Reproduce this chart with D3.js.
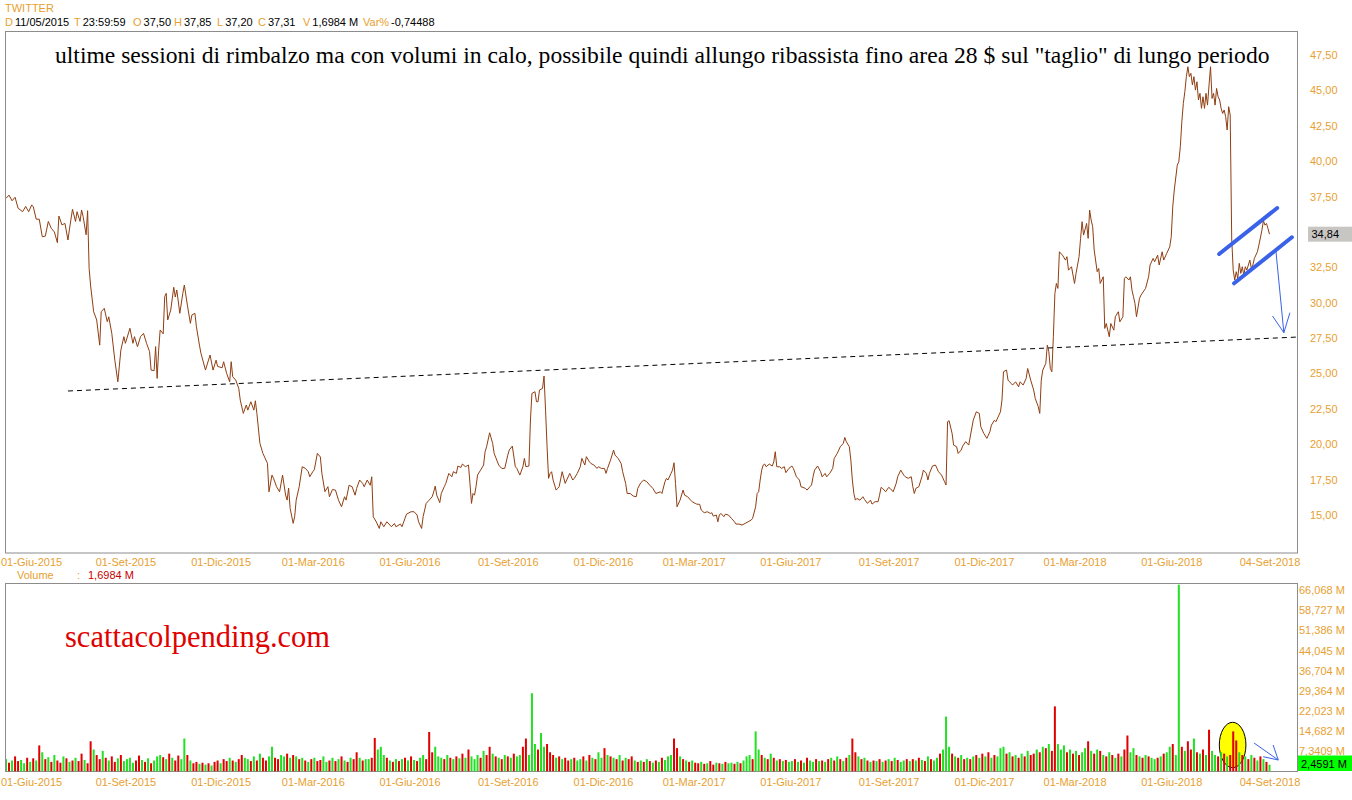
<!DOCTYPE html>
<html>
<head>
<meta charset="utf-8">
<script src="https://cdn.jsdelivr.net/npm/d3@7"></script>
<style>
body { margin:0; background:#fff; }
svg { display:block; font-family: Arial, "Liberation Sans", sans-serif; }
</style>
</head>
<body>
<svg id="chart" width="1352" height="800"></svg>
<script>
// trading-day index (0 = 11/05/2015) and close
var priceDays = [0,2,4,6,8,11,13,15,17,18,20,22,24,26,28,30,32,34,35,37,39,41,42,44,46,47,49,50,51,53,54,55,56,58,60,62,63,65,67,68,70,72,74,76,78,79,82,84,85,87,89,91,93,95,96,98,99,100,101,102,104,105,106,107,109,111,112,113,115,117,118,120,122,123,125,126,128,129,132,133,135,137,139,140,143,144,146,148,149,150,152,154,155,157,159,160,162,164,165,166,168,170,173,174,176,177,179,181,183,185,186,187,188,190,191,192,194,196,198,200,201,203,204,206,208,209,211,213,214,
216,218,220,222,224,225,227,229,231,232,234,236,237,239,241,242,243,245,247,248,250,252,254,255,257,258,261,262,264,265,268,270,272,273,275,276,278,280,282,283,284,285,287,288,290,291,293,295,296,298,299,301,302,304,306,307,308,309,310,311,312,314,316,317,318,320,322,323,326,328,330,332,333,335,337,338,340,342,343,344,346,347,348,350,351,352,353,355,356,357,358,359,360,361,362,364,365,366,368,370,371,373,375,376,378,380,381,383,384,386,387,389,391,392,394,396,397,398,400,402,403,405,407,408,410,411,413,415,417,418,420,422,424,426,
428,430,433,434,436,437,438,440,441,442,443,444,446,448,449,451,453,454,456,457,459,460,462,464,466,467,468,470,471,472,473,475,476,478,480,482,483,485,487,489,491,493,494,496,497,498,499,500,501,502,503,505,507,508,509,510,512,513,515,516,518,520,521,523,525,526,529,530,532,533,534,535,537,539,540,542,543,545,547,548,550,552,554,555,556,558,559,560,561,562,563,565,567,568,570,572,573,575,577,578,579,580,582,584,585,587,589,590,592,594,595,597,599,600,601,602,604,606,607,609,610,611,613,615,616,617,619,621,622,623,624,626,627,629,630,632,633,635,637,
640,642,644,645,647,649,651,652,654,655,657,658,659,660,662,663,665,666,668,670,671,673,675,676,678,680,681,683,684,685,686,688,689,690,691,692,693,694,695,696,697,699,701,702,703,705,707,708,710,711,712,713,715,716,717,718,719,720,722,723,724,726,727,728,730,731,733,734,736,737,739,740,741,743,744,745,746,747,748,750,751,754,756,757,759,760,762,763,765,766,768,770,771,772,773,775,776,777,778,779,780,781,782,783,784,785,786,787,788,789,790,791,792,793,794,795,796,797,798,799,800,801,802,803,804,805,806,807,808,809,810,811,812,813,814,815,816,817,818,819,820,821,823,824,825,826,828,829,831,832,833,834,835,836,837];
var priceClose = [37.37,37.6,37.2,37.45,36.67,36.43,36.8,36.43,36.9,36.8,35.9,35.9,34.66,34.7,35.74,35.25,35.0,34.24,36.12,35.5,35.6,34.43,35.2,36.6,35.74,36.43,35.74,36.55,36.1,34.8,36.5,32.43,31.18,29.36,28.78,27.0,29.36,29.6,28.66,29.0,27.83,25.94,24.41,26.65,27.6,27.13,28.19,27.13,27.6,26.89,27.6,27.83,27.13,26.54,25.24,25.2,26.9,24.65,26.65,28.07,27.8,30.42,30.66,28.78,29.48,31.09,30.4,30.9,29.25,30.66,31.25,29.83,28.54,29.13,29.25,28.3,27.0,26.42,25.24,25.6,26.3,25.24,25.94,25.5,25.4,25.83,25.0,24.41,25.83,24.77,24.53,23.95,23.12,22.18,22.77,22.41,23.0,22.41,23.07,22.18,20.06,19.35,18.65,16.64,17.82,17.6,17.0,16.64,17.82,16.41,16.05,16.9,15.47,14.41,14.88,16.05,17.0,18.41,18.3,18.06,17.7,18.06,18.2,19.35,19.1,17.95,16.65,17.0,16.29,
16.8,16.76,16.05,15.58,16.29,16.05,17.1,17.0,16.4,16.88,17.47,17.23,17.0,17.47,17.1,17.7,14.88,14.52,14.05,14.52,14.17,14.52,14.29,14.17,14.4,14.17,14.36,14.17,14.76,15.06,15.23,15.23,15.0,14.52,14.05,14.88,15.82,16.05,16.29,16.64,17.04,16.4,15.87,16.52,17.0,17.23,17.94,17.7,18.06,17.94,18.46,18.36,18.6,18.41,18.53,17.23,15.82,16.52,16.4,17.0,17.82,18.17,18.53,19.47,19.82,20.81,20.06,19.35,18.53,18.29,18.29,19.23,19.59,19.87,18.41,18.29,17.82,18.41,19.0,18.41,18.46,21.71,23.59,23.71,23.0,23.0,23.83,23.94,24.82,22.41,19.82,17.59,17.94,18.06,17.47,16.76,16.88,17.0,18.06,17.23,17.47,17.94,17.47,17.59,17.94,18.41,19.0,18.53,19.12,18.76,18.64,18.53,18.29,18.41,18.29,18.29,17.94,18.29,18.88,19.59,19.23,19.0,18.64,18.06,17.23,16.52,16.52,16.34,16.29,16.88,17.28,17.47,17.35,17.1,
16.88,16.52,16.64,16.52,17.35,17.59,17.47,17.94,18.17,18.69,17.23,15.58,16.05,16.76,16.4,16.29,16.05,15.94,15.82,15.77,15.75,15.35,15.16,15.23,15.11,15.16,14.92,15.0,14.52,15.0,15.11,14.88,15.06,15.0,14.76,14.52,14.36,14.36,14.29,14.4,14.52,14.64,14.76,15.58,16.52,16.64,17.47,18.17,18.53,18.6,18.41,18.6,18.46,18.76,19.47,18.41,18.41,18.29,18.41,17.99,18.29,18.46,18.29,17.7,17.47,17.0,16.88,16.76,17.0,17.12,17.7,18.17,18.46,18.06,17.7,17.94,17.7,17.94,18.29,19.0,19.35,19.82,20.06,20.48,20.18,19.82,18.88,17.47,16.52,16.05,16.17,16.05,16.29,16.1,15.82,16.05,15.77,15.94,15.94,16.4,16.95,16.88,16.64,16.95,16.88,16.64,17.23,17.7,18.17,17.82,17.7,17.59,17.7,17.0,16.52,16.88,17.0,17.7,18.17,17.94,17.47,17.94,18.46,18.53,18.29,18.06,17.82,17.35,17.12,21.59,21.66,20.76,19.94,19.82,19.35,19.59,19.87,20.18,19.94,
21.7,22.29,22.18,21.23,20.76,20.41,20.88,21.35,21.7,21.59,22.06,22.29,23.12,25.12,25.24,24.53,24.3,24.18,24.41,24.06,24.41,24.18,24.65,25.35,24.53,23.82,23.24,22.65,22.18,24.53,25.24,25.71,27.0,26.53,25.35,25.12,27.59,30.65,31.36,31.01,33.6,33.36,33.01,33.25,32.3,32.54,31.36,32.07,33.25,34.54,35.72,34.78,35.6,34.54,36.54,35.84,35.37,33.72,32.19,32.42,31.36,31.83,28.18,28.53,27.59,28.53,28.06,29.01,29.36,28.65,29.01,31.72,31.83,31.6,31.83,30.89,30.42,29.95,29.01,30.3,30.54,31.01,31.83,32.66,33.13,32.89,33.36,32.66,33.6,33.01,33.48,33.95,34.66,36.78,37.96,39.72,39.96,41.02,42.79,44.08,44.91,45.97,46.67,45.97,46.2,45.38,45.97,45.02,45.61,44.32,44.79,43.73,44.55,43.73,44.79,43.96,45.38,46.67,44.43,44.79,43.96,45.14,44.55,44.32,43.73,43.37,43.61,43.14,42.2,43.85,43.26,34.5,32.3,31.6,32.19,31.72,32.78,32.07,32.54,31.95,32.54,32.3,33.01,32.42,32.66,33.13,33.6,34.07,35.13,35.79,35.48,35.6,35.25,34.84];

// volume, millions, one bar every 2 trading days
var volStep = 2;
var volumes = [4.5,3.2,4.0,5.5,3.8,4.2,3.0,5.0,3.5,4.8,
4.0,9.5,7.0,4.5,5.2,3.5,6.0,4.0,3.2,5.5,
4.8,3.5,4.0,5.0,3.8,6.5,4.2,3.0,11.0,8.0,
6.0,4.5,7.5,5.0,4.0,5.5,3.5,4.8,6.0,3.8,
4.5,5.0,3.2,4.0,5.8,4.2,3.5,4.8,3.0,4.0,
5.5,6.0,5.2,4.5,6.5,5.0,4.0,5.8,4.5,12.0,
6.0,4.0,3.0,3.5,2.8,3.2,2.5,3.0,2.2,3.5,
4.0,3.0,4.5,3.8,5.0,4.0,3.5,4.5,6.0,5.0,
4.5,3.8,5.5,4.0,6.5,5.0,4.0,5.5,9.0,5.0,
4.5,6.0,5.5,6.5,5.0,6.0,5.5,4.5,5.0,4.0,
3.5,4.5,5.0,3.8,4.2,5.5,3.5,4.0,5.0,3.8,
4.5,5.5,4.0,3.5,5.0,4.5,7.0,5.0,4.0,4.5,
4.5,5.0,12.2,8.0,9.0,6.0,5.0,4.0,3.5,4.5,
3.8,4.5,5.0,4.0,5.5,4.2,3.8,5.0,6.0,4.5,
14.4,7.0,9.0,5.5,5.0,4.5,6.0,5.0,4.5,5.5,
4.8,6.5,5.0,8.0,5.5,4.5,6.0,5.0,7.5,6.0,
9.0,6.5,5.5,5.0,4.5,6.0,5.5,5.0,6.5,5.5,
6.0,9.0,12.0,6.0,28.5,10.0,8.0,14.0,9.0,10.0,
7.0,6.0,5.0,5.5,4.5,5.0,4.0,4.5,5.0,4.0,
4.5,5.5,4.0,6.0,5.0,4.5,7.0,5.0,8.5,6.0,
5.5,5.0,4.5,6.0,4.0,5.0,4.5,5.5,4.0,3.5,
4.0,3.5,4.5,3.8,3.2,4.0,3.5,5.0,4.2,5.5,
6.0,12.0,8.5,5.5,4.5,4.0,3.5,4.0,3.2,3.0,
3.5,2.8,3.0,3.8,2.5,3.2,3.0,2.8,3.5,3.0,
3.2,2.8,3.5,3.0,4.0,5.5,6.0,4.5,14.6,8.0,
6.0,5.0,4.5,6.5,5.0,4.0,4.5,3.8,4.2,3.5,
3.8,4.5,3.5,4.0,3.2,5.0,4.0,3.5,4.5,3.8,
4.0,3.5,4.5,5.0,4.0,5.5,4.5,3.8,5.0,6.0,
12.0,7.0,5.5,4.5,5.0,4.0,3.5,4.0,3.8,4.5,
3.5,4.0,4.5,3.8,5.0,4.2,3.5,4.0,4.5,3.8,
4.5,4.0,5.0,4.2,3.8,5.5,4.5,4.0,5.0,6.5,
8.0,20.0,9.0,6.5,5.5,5.0,6.0,4.5,5.0,4.5,
5.5,6.0,5.0,6.5,5.5,7.0,5.0,6.0,5.5,8.5,
9.0,6.5,7.0,5.5,6.0,5.0,6.5,5.5,7.5,6.0,
6.5,8.0,7.0,9.0,8.5,10.0,7.5,23.7,10.0,8.0,
9.5,7.0,8.0,6.5,7.5,6.0,7.0,8.5,11.0,7.5,
6.5,8.0,7.5,6.0,5.5,7.0,6.0,5.0,6.5,5.5,
8.0,13.1,7.0,8.5,6.0,5.5,5.0,6.0,5.5,5.0,
4.5,5.0,5.5,6.5,7.0,9.0,10.0,6.0,68.0,9.0,
7.5,11.0,8.0,12.0,7.0,6.5,8.0,6.0,15.2,7.5,
6.0,5.5,7.0,6.5,5.5,6.0,14.6,11.3,7.0,6.0,
5.5,4.5,6.0,5.0,4.0,5.5,4.5,3.5,2.46];
var volColors =
  "grgrrggrgr" + "grgrgrgrrg" + "rgrgrrgrrg" + "rrgrgrrgrg" + "gggrrgrgrg" +
  "ggrgrgrrgg" + "rgrrgrgrgr" + "rgrrgrgrrg" + "grgrgrrggr" + "rggrgrgrgr" +
  "grgrrggrgr" + "grgrgrrgrg" + "grrgggrgrg" + "rgrgrgrggr" + "rrgggrgrgr" +
  "grgrgggrgr" + "rgrgrgrgrg" + "grrgggrggr" + "rrgrgrrgrg" + "grgrgrggrg" +
  "rgrgrgrrgr" + "grgrgrgrgg" + "grrgrgrgrr" + "grgrrgrgrg" + "grgrgggrgg" +
  "rgrgrgrgrg" + "grgrgrggrg" + "rgrgrgrgrg" + "rrgrgrgrgr" + "grgrgrggrg" +
  "rgrgrgrggr" + "gggrgrgrgr" + "grgrgrgrgg" + "grgrgrgrgr" + "rgrgrgrrgg" +
  "grgrgrggrg" + "rgrgrgrgrg" + "rrggrgrgrg" + "grgrggrggr" + "grrgrgrgrg" +
  "grgrgrrrgr" + "grgrgrgrg";

var dateLabels = ["01-Giu-2015","01-Set-2015","01-Dic-2015","01-Mar-2016","01-Giu-2016","01-Set-2016","01-Dic-2016","01-Mar-2017","01-Giu-2017","01-Set-2017","01-Dic-2017","01-Mar-2018","01-Giu-2018","04-Set-2018"];
var labelDays = [14,79,142,203,267,332,395,455,519,584,647,707,771,836];
var priceTicks = [15,17.5,20,22.5,25,27.5,30,32.5,35,37.5,40,42.5,45,47.5];
var volTicks = [7.3409,14.682,22.023,29.364,36.704,44.045,51.386,58.727,66.068];

// hand-drawn annotations, [day, price] / [day, volume]
var trendLine = [[41,23.76],[854,27.57]];
var channelUp = [[802.7,33.44],[841.1,36.69]];
var channelDown = [[812.6,31.37],[850.8,34.62]];
var priceArrow = [[840.2,33.72],[845.5,27.88]];
var priceArrowHead = [[838.0,29.06],[845.5,27.88],[849.5,29.29]];
var volArrow = [[825.7,10.4],[841.8,4.19]];
var volArrowHead = [[831.8,5.39],[841.8,4.19],[838.4,9.65]];
var volEllipse = {day:811.6, vol:9.65, dDay:8.8, dVol:8.26};

var lastClose = 34.84, lastVol = 2.4591;

var orange = "#e8a030";
var it = d3.formatLocale({decimal:",", thousands:".", grouping:[3], currency:["","€"]});
var fmt2 = it.format(".2f"), fmtV = it.format(".5r");

var svg = d3.select("#chart");

var x = d3.scaleLinear().domain([0, 837]).range([6, 1271]);
var y = d3.scaleLinear().domain([15, 47.5]).range([515, 55]);
var yv = d3.scaleLinear().domain([0, 66.068]).range([771.5, 590]);

// header
svg.append("text").attr("x", 5).attr("y", 12).attr("font-size", 11).attr("fill", orange).text("TWITTER");
var hdr = [["D","11/05/2015",5],["T","23:59:59",74],["O","37,50",133],["H","37,85",174],["L","37,20",217],["C","37,31",258],["V","1,6984 M",303],["Var%","-0,74488",363]];
var h2 = svg.append("text").attr("y", 26).attr("font-size", 11);
hdr.forEach(function(d){
    h2.append("tspan").attr("x", d[2]).attr("fill", orange).text(d[0]);
    h2.append("tspan").attr("dx", 2).attr("fill", "#000").text(d[1]);
});

// panels
svg.append("rect").attr("x", 5.5).attr("y", 31.5).attr("width", 1292).attr("height", 521.5)
    .attr("fill", "none").attr("stroke", "#8c8c8c");
svg.append("rect").attr("x", 5.5).attr("y", 583.5).attr("width", 1292).attr("height", 188)
    .attr("fill", "none").attr("stroke", "#8c8c8c");

svg.append("clipPath").attr("id", "pclip").append("rect").attr("x", 6).attr("y", 32).attr("width", 1291).attr("height", 521);
svg.append("clipPath").attr("id", "vclip").append("rect").attr("x", 6).attr("y", 584).attr("width", 1291).attr("height", 187.5);

// title annotation
svg.append("text").attr("x", 55).attr("y", 63)
    .attr("font-family", "'Liberation Serif','Times New Roman',serif").attr("font-size", 23.6).attr("fill", "#000")
    .text("ultime sessioni di rimbalzo ma con volumi in calo, possibile quindi allungo ribassista fino area 28 $ sul \"taglio\" di lungo periodo");

// price line
var pts = priceDays.map(function(d, i){ return [d, priceClose[i]]; });
var line = d3.line().x(function(d){ return x(d[0]); }).y(function(d){ return y(d[1]); });
var pg = svg.append("g").attr("clip-path", "url(#pclip)");
pg.append("path").datum(pts).attr("d", line).attr("fill", "none").attr("stroke", "#8f3e12").attr("stroke-width", 1);

// dashed long-term trendline
pg.append("path").datum(trendLine).attr("d", line).attr("fill", "none")
    .attr("stroke", "#000").attr("stroke-width", 1).attr("stroke-dasharray", "5,4");

// channel
[channelUp, channelDown].forEach(function(c){
    pg.append("path").datum(c).attr("d", line).attr("fill", "none")
        .attr("stroke", "#3a62e8").attr("stroke-width", 4).attr("stroke-linecap", "round");
});
pg.append("path").datum(priceArrow).attr("d", line).attr("fill", "none").attr("stroke", "#3a62e8").attr("stroke-width", 1);
pg.append("path").datum(priceArrowHead).attr("d", line).attr("fill", "none").attr("stroke", "#3a62e8").attr("stroke-width", 1);

// price axis labels
var yAxis = d3.axisRight(y).tickValues(priceTicks).tickSize(0).tickPadding(0).tickFormat(fmt2);
var ya = svg.append("g").attr("transform", "translate(1310,0)").call(yAxis);
ya.select(".domain").remove();
ya.selectAll("text").attr("fill", orange).attr("font-size", 11).attr("font-family", "Arial, 'Liberation Sans', sans-serif");

// last close box
svg.append("rect").attr("x", 1308).attr("y", y(lastClose) - 7.5).attr("width", 44).attr("height", 15).attr("fill", "#c8c6c3");
svg.append("text").attr("x", 1339).attr("y", y(lastClose) + 4).attr("text-anchor", "end").attr("font-size", 11).attr("fill", "#000").text(fmt2(lastClose));

// x labels
function xLabels(ty){
    var ax = d3.axisBottom(x).tickValues(labelDays).tickSize(0).tickPadding(0)
        .tickFormat(function(d, i){ return dateLabels[i]; });
    var g = svg.append("g").attr("transform", "translate(0," + ty + ")").call(ax);
    g.select(".domain").remove();
    g.selectAll("text").attr("fill", orange).attr("font-size", 11).attr("font-family", "Arial, 'Liberation Sans', sans-serif");
    // first label sits against the left edge
    g.selectAll("text").filter(function(d, i){ return i === 0; }).attr("text-anchor", "start").attr("x", -x(labelDays[0]) + 0.5);
}
xLabels(558);
xLabels(778);

// volume label row
svg.append("text").attr("x", 17).attr("y", 579).attr("font-size", 11).attr("fill", orange).text("Volume");
svg.append("text").attr("x", 77).attr("y", 579).attr("font-size", 11).attr("fill", orange).text(":");
svg.append("text").attr("x", 88).attr("y", 579).attr("font-size", 11).attr("fill", "#c80000").text("1,6984 M");

// watermark
svg.append("text").attr("x", 65).attr("y", 647)
    .attr("font-family", "'Liberation Serif','Times New Roman',serif").attr("font-size", 30.5).attr("fill", "#e00000")
    .text("scattacolpending.com");

// volume panel
var vg = svg.append("g").attr("clip-path", "url(#vclip)");
vg.append("ellipse")
    .attr("cx", x(volEllipse.day)).attr("cy", yv(volEllipse.vol))
    .attr("rx", x(volEllipse.day + volEllipse.dDay) - x(volEllipse.day))
    .attr("ry", yv(0) - yv(volEllipse.dVol))
    .attr("fill", "#ffff00").attr("stroke", "#000").attr("stroke-width", 1);

vg.selectAll("rect.vol").data(volumes).join("rect").attr("class", "vol")
    .attr("x", function(d, i){ return x(i * volStep) - 1; })
    .attr("width", 2)
    .attr("y", function(d){ return yv(d); })
    .attr("height", function(d){ return yv(0) - yv(d); })
    .attr("fill", function(d, i){ return volColors.charAt(i) === "r" ? "#e00000" : "#22e022"; });

var vline = d3.line().x(function(d){ return x(d[0]); }).y(function(d){ return yv(d[1]); });
vg.append("path").datum(volArrow).attr("d", vline).attr("fill", "none").attr("stroke", "#3a62e8").attr("stroke-width", 1);
vg.append("path").datum(volArrowHead).attr("d", vline).attr("fill", "none").attr("stroke", "#3a62e8").attr("stroke-width", 1);

// volume axis labels
var vAxis = d3.axisRight(yv).tickValues(volTicks).tickSize(0).tickPadding(0)
    .tickFormat(function(d){ return fmtV(d) + " M"; });
var va = svg.append("g").attr("transform", "translate(1299,0)").call(vAxis);
va.select(".domain").remove();
va.selectAll("text").attr("fill", orange).attr("font-size", 11).attr("font-family", "Arial, 'Liberation Sans', sans-serif");

svg.append("rect").attr("x", 1298).attr("y", yv(0) - 16).attr("width", 54).attr("height", 15.5).attr("fill", "#00ff00");
svg.append("text").attr("x", 1301).attr("y", yv(0) - 4).attr("font-size", 11).attr("fill", "#000").text(fmtV(lastVol) + " M");
</script>
</body>
</html>
